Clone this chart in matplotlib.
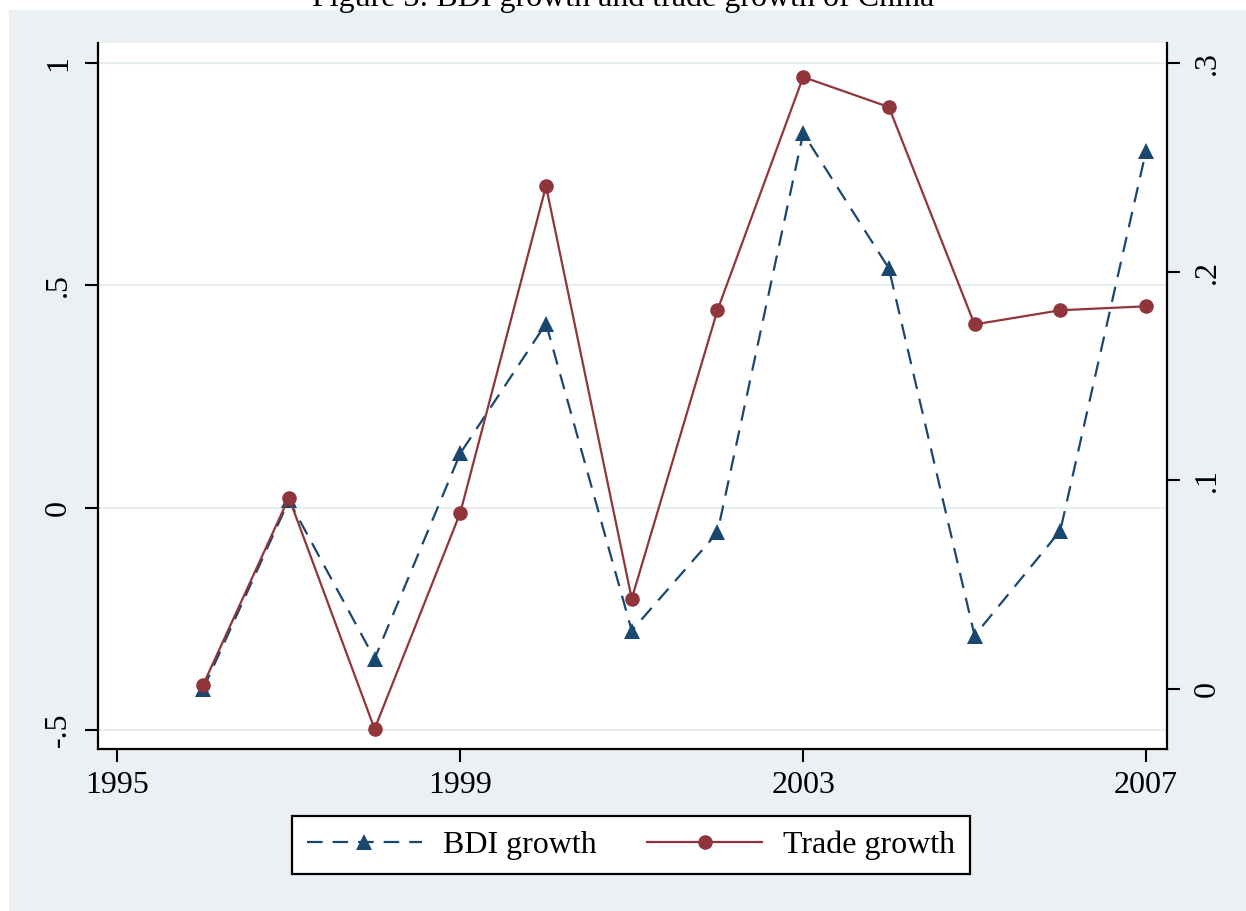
import matplotlib
matplotlib.use("Agg")
import matplotlib.pyplot as plt
from matplotlib.patches import Rectangle
from matplotlib.lines import Line2D

# ---- data ----
years = [1996, 1997, 1998, 1999, 2000, 2001, 2002, 2003, 2004, 2005, 2006, 2007]
bdi_growth = [-0.408, 0.016, -0.340, 0.122, 0.414, -0.277, -0.056, 0.842, 0.538, -0.288, -0.052, 0.802]
trade_growth = [0.002, 0.0917, -0.0192, 0.0845, 0.241, 0.0432, 0.1815, 0.2933, 0.2789, 0.1747, 0.1815, 0.1834]
x_ticks = [1995, 1999, 2003, 2007]
left_ticks = [-0.5, 0, 0.5, 1]
left_labels = ["-.5", "0", ".5", "1"]
right_ticks = [0, 0.1, 0.2, 0.3]
right_labels = ["0", ".1", ".2", ".3"]
title = "Figure 3: BDI growth and trade growth of China"
series_names = ["BDI growth", "Trade growth"]

NAVY = "#1a476f"
MAROON = "#90353b"
BG = "#eaf0f3"
GRID = "#e6eef0"

plt.rcParams["font.family"] = ["Liberation Serif", "DejaVu Serif"]
FS = 23

W, H = 1246, 911
fig = plt.figure(figsize=(W / 100, H / 100), dpi=100, facecolor="white")

# light background region
fig.patches.append(Rectangle((9 / W, 0), 1 - 9 / W, 1 - 10 / H, transform=fig.transFigure,
                             facecolor=BG, edgecolor="none", zorder=-10))

left, right, top, bottom = 97.5, 1167, 43, 749
ax = fig.add_axes([left / W, (H - bottom) / H, (right - left) / W, (bottom - top) / H])
ax.set_facecolor("white")

ax.set_xlim(1994.767, 2007.245)
ax.set_ylim(-0.543, 1.045)
ax.set_yticks(left_ticks)
ax.set_yticklabels(left_labels, rotation=90, va="center", fontsize=FS)
ax.set_xticks(x_ticks)
ax.set_xticklabels([str(t) for t in x_ticks], fontsize=FS)
for yv in left_ticks:
    ax.axhline(yv, color=GRID, lw=1.6, zorder=0)

ax.plot(years, bdi_growth, color=NAVY, lw=1.6, dashes=(7, 4.5), marker="^",
        markersize=11.5, markeredgewidth=0, zorder=3)

ax2 = ax.twinx()
ax2.set_ylim(-0.0288, 0.3096)
ax2.set_yticks(right_ticks)
ax2.set_yticklabels(right_labels, rotation=90, va="center", fontsize=FS)
ax2.plot(years, trade_growth, color=MAROON, lw=1.6, marker="o",
         markersize=10.5, markeredgewidth=0, zorder=3)

for a in (ax, ax2):
    a.spines["top"].set_visible(False)
    for s in ("left", "right", "bottom"):
        a.spines[s].set_linewidth(1.6)
        a.spines[s].set_color("black")
    a.tick_params(axis="both", direction="out", length=9.5, width=1.5, pad=6)
ax2.spines["left"].set_visible(False)
ax2.spines["bottom"].set_visible(False)
ax.spines["right"].set_visible(False)
ax.tick_params(axis="y", pad=8)
ax2.tick_params(axis="y", pad=9)

fig.text(0.5, 1 - 6 / H, title, ha="center", va="baseline", fontsize=FS)

handles = [
    Line2D([], [], color=NAVY, lw=1.6, dashes=(7, 4.5), marker="^", markersize=11.5, markeredgewidth=0),
    Line2D([], [], color=MAROON, lw=1.6, marker="o", markersize=10.5, markeredgewidth=0),
]
leg = fig.legend(handles, series_names, loc="center", ncol=2,
                 bbox_to_anchor=(631 / W, 1 - 845 / H), fontsize=FS, frameon=True,
                 fancybox=False, edgecolor="black", facecolor="white", framealpha=1,
                 handlelength=3.6, handletextpad=0.65, columnspacing=1.6,
                 borderpad=0.45, borderaxespad=0)
leg.get_frame().set_linewidth(1.6)

fig.savefig("out.png", dpi=100, facecolor="white")
